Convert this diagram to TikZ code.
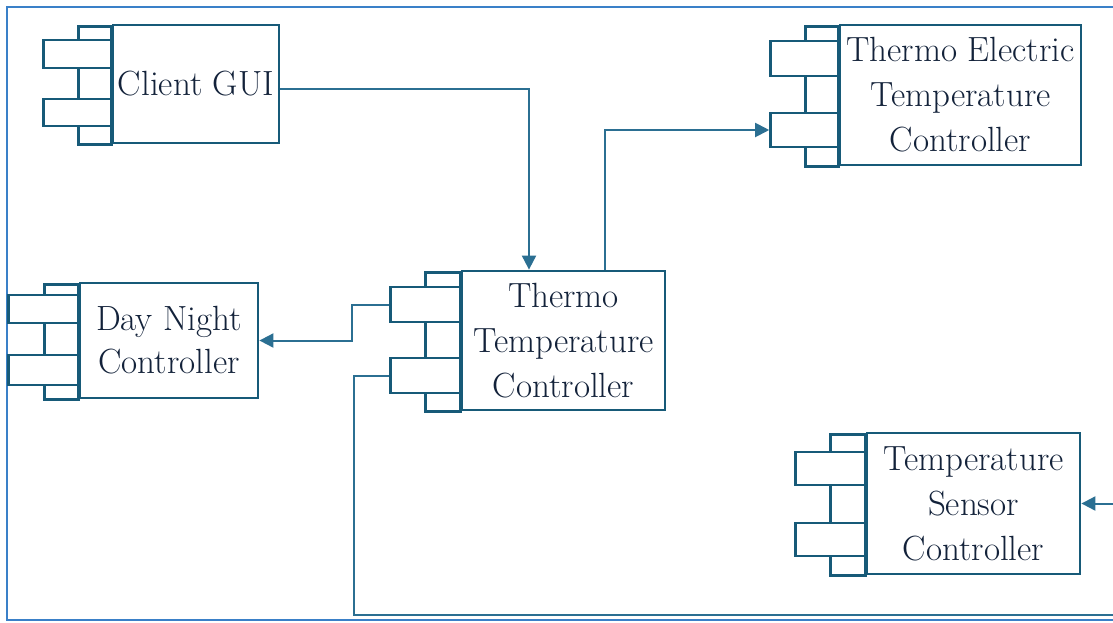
\documentclass[tikz,border=0pt]{standalone}
\usepackage{fontspec}
\usetikzlibrary{arrows.meta,calc}
\definecolor{boxc}{HTML}{175A78}
\definecolor{connc}{HTML}{2B6F92}
\definecolor{framec}{HTML}{3A80C8}
\definecolor{txtc}{HTML}{13223A}
\tikzset{
  x=1pt, y=-1pt,
  mainbox/.style={draw=boxc, line width=2.8pt, fill=white, inner sep=0pt},
  backbox/.style={draw=boxc, line width=2.8pt, fill=white, inner sep=0pt, anchor=north east},
  portbox/.style={draw=boxc, line width=2.8pt, fill=white, inner sep=0pt, anchor=east},
  lbl/.style={text=txtc, align=center, inner sep=0pt, font=\fontsize{35}{45}\selectfont},
  conn/.style={draw=connc, line width=2pt},
  arr/.style={-{Triangle[length=14pt,width=14pt]}},
  framel/.style={draw=framec, line width=2.4pt}
}
\newcommand{\component}[9]{%
  % #1 name, #2 cx, #3 cy, #4 w, #5 h, #6 back width, #7 port width, #8 port1 spec, #9 port2 spec
  \node[backbox, minimum width=#6, minimum height=#5] (#1b) at ({#2-#4/2},{#3-#5/2}) {};
  \node[mainbox, minimum width=#4, minimum height=#5] (#1) at (#2,#3) {};
  \foreach \py/\ph [count=\i] in {#8,#9} {
    \node[portbox, minimum width=#7, minimum height=\ph] (#1p\i) at ({#2-#4/2},\py) {};
  }
}
\begin{document}
\begin{tikzpicture}
\useasboundingbox (0,0) rectangle (1113,622);
\clip (0,0) rectangle (1113,622);
\fill[white] (0,0) rectangle (1113,622);
\draw[framel] (1130,7) -- (7,7) -- (7,620) -- (1130,620);

% Client GUI
\component{cgui}{196}{84}{166}{118}{33}{68}{54/28}{112.5/27}
\node[lbl] (cguit) at (cgui) {Client GUI};

% Thermo Electric Temperature Controller
\component{tetc}{960.5}{95}{241}{140}{33}{68}{58.5/35}{130/34}
\node[lbl] (tetct) at (tetc) {Thermo Electric\\Temperature\\Controller};

% Thermo Temperature Controller
\component{ttc}{563.5}{340.5}{203}{139}{35}{70}{304.5/35}{375.5/35}
\node[lbl] (ttct) at (ttc) {Thermo\\Temperature\\Controller};

% Day Night Controller
\component{dnc}{169}{340.5}{178}{115}{34}{70}{309/28}{370/30}
\node[lbl, font=\fontsize{35}{43}\selectfont] (dnct) at (dnc) {Day Night\\Controller};

% Temperature Sensor Controller
\component{tsc}{973.5}{503.5}{213}{141}{35}{70}{468.5/33}{539.5/33}
\node[lbl] (tsct) at (tsc) {Temperature\\Sensor\\Controller};

% connectors
\draw[conn, arr] ([yshift=-5pt]cgui.east) -| ([xshift=-34.5pt]ttc.north);
\draw[conn, arr] ([xshift=41.5pt]ttc.north) |- (tetcp2.west);
\draw[conn, arr] (ttcp1.west) -- ++(-37,0) |- (dnc.east);
\coordinate (rc) at (1135,615);
\draw[conn, arr] (ttcp2.west) -- ++(-35,0) |- (rc) |- (tsc.east);
\end{tikzpicture}
\end{document}
